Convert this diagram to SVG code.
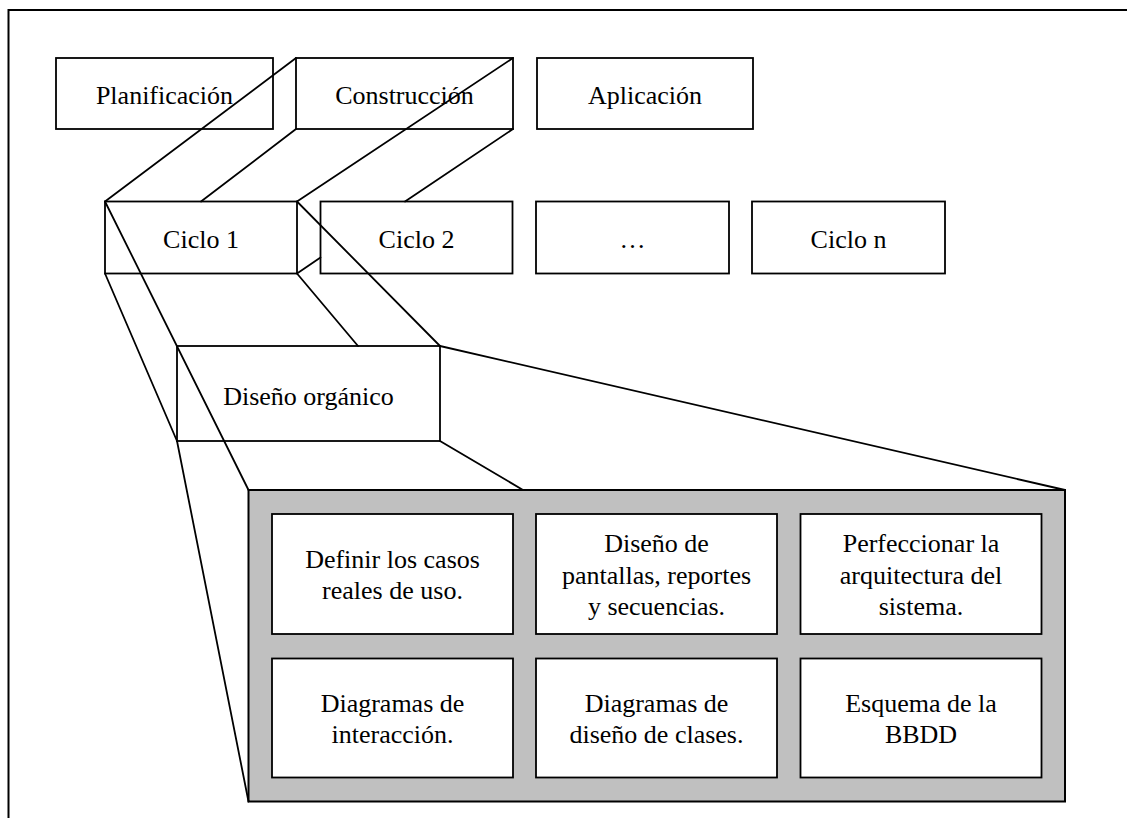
<svg xmlns="http://www.w3.org/2000/svg" width="1127" height="818" viewBox="0 0 1127 818">
  <style>
    .box { fill: #ffffff; stroke: #000000; stroke-width: 1.8; }
    .panel { fill: #c0c0c0; stroke: #000000; stroke-width: 2; }
    .frame { fill: none; stroke: #000000; stroke-width: 2; }
    .link { fill: none; stroke: #000000; stroke-width: 1.8; stroke-linecap: round; }
    .lbl { font-family: "Liberation Serif", "Times New Roman", serif; font-size: 26px; fill: #000000; text-anchor: middle; }
  </style>

  <rect width="1127" height="818" fill="#ffffff"/>

  <!-- page frame: top and left border only -->
  <path class="frame" d="M8.5 818 V10 H1127"/>

  <!-- phases -->
  <g id="planificacion">
    <rect class="box" x="56" y="58" width="217" height="71"/>
    <text class="lbl" x="164.5" y="104">Planificación</text>
  </g>
  <g id="construccion">
    <rect class="box" x="296" y="58" width="217" height="71"/>
    <text class="lbl" x="404.5" y="104">Construcción</text>
  </g>
  <g id="aplicacion">
    <rect class="box" x="537" y="58" width="216" height="71"/>
    <text class="lbl" x="645" y="104">Aplicación</text>
  </g>

  <!-- cycles -->
  <g id="ciclo1">
    <rect class="box" x="105" y="201.5" width="192" height="72"/>
    <text class="lbl" x="201" y="248">Ciclo 1</text>
  </g>
  <g id="ciclo2">
    <rect class="box" x="320.5" y="201.5" width="192" height="72"/>
    <text class="lbl" x="416.5" y="248">Ciclo 2</text>
  </g>
  <g id="ciclo-etc">
    <rect class="box" x="536" y="201.5" width="193" height="72"/>
    <text class="lbl" x="632.5" y="248">…</text>
  </g>
  <g id="ciclon">
    <rect class="box" x="752" y="201.5" width="193" height="72"/>
    <text class="lbl" x="848.5" y="248">Ciclo n</text>
  </g>

  <!-- detail of the selected cycle -->
  <g id="diseno-organico">
    <rect class="box" x="177" y="346" width="263" height="95"/>
    <text class="lbl" x="308.5" y="405">Diseño orgánico</text>
  </g>

  <g id="actividades">
    <rect class="panel" x="248.5" y="490" width="816.5" height="311.5"/>

    <g id="casos-uso">
      <rect class="box" x="272" y="514" width="241" height="120"/>
      <text class="lbl" x="392.5" y="568">Definir los casos</text>
      <text class="lbl" x="392.5" y="599">reales de uso.</text>
    </g>
    <g id="pantallas">
      <rect class="box" x="536" y="514" width="241" height="120"/>
      <text class="lbl" x="656.5" y="552">Diseño de</text>
      <text class="lbl" x="656.5" y="583.5">pantallas, reportes</text>
      <text class="lbl" x="656.5" y="615">y secuencias.</text>
    </g>
    <g id="arquitectura">
      <rect class="box" x="800.5" y="514" width="241" height="120"/>
      <text class="lbl" x="921" y="552">Perfeccionar la</text>
      <text class="lbl" x="921" y="583.5">arquitectura del</text>
      <text class="lbl" x="921" y="615">sistema.</text>
    </g>
    <g id="interaccion">
      <rect class="box" x="272" y="658.5" width="241" height="119"/>
      <text class="lbl" x="392.5" y="712">Diagramas de</text>
      <text class="lbl" x="392.5" y="743">interacción.</text>
    </g>
    <g id="clases">
      <rect class="box" x="536" y="658.5" width="241" height="119"/>
      <text class="lbl" x="656.5" y="712">Diagramas de</text>
      <text class="lbl" x="656.5" y="743">diseño de clases.</text>
    </g>
    <g id="bbdd">
      <rect class="box" x="800.5" y="658.5" width="241" height="119"/>
      <text class="lbl" x="921" y="712">Esquema de la</text>
      <text class="lbl" x="921" y="743">BBDD</text>
    </g>
  </g>

  <!-- projection lines -->
  <g id="connectors">
    <line class="link" x1="296" y1="58" x2="105" y2="201.5"/>
    <line class="link" x1="296" y1="129" x2="201" y2="201.5"/>
    <line class="link" x1="513" y1="58" x2="297" y2="201.5"/>
    <line class="link" x1="513" y1="129" x2="405" y2="201.5"/>
    <line class="link" x1="297" y1="273.5" x2="320.5" y2="257.5"/>
    <line class="link" x1="105" y1="201.5" x2="248.5" y2="490"/>
    <line class="link" x1="105" y1="273.5" x2="177" y2="441"/>
    <line class="link" x1="297" y1="201.5" x2="440" y2="346"/>
    <line class="link" x1="297" y1="273.5" x2="358" y2="346"/>
    <line class="link" x1="440" y1="346" x2="1065" y2="490"/>
    <line class="link" x1="440" y1="441" x2="523" y2="490"/>
    <line class="link" x1="177" y1="441" x2="248.5" y2="801.5"/>
  </g>
</svg>
